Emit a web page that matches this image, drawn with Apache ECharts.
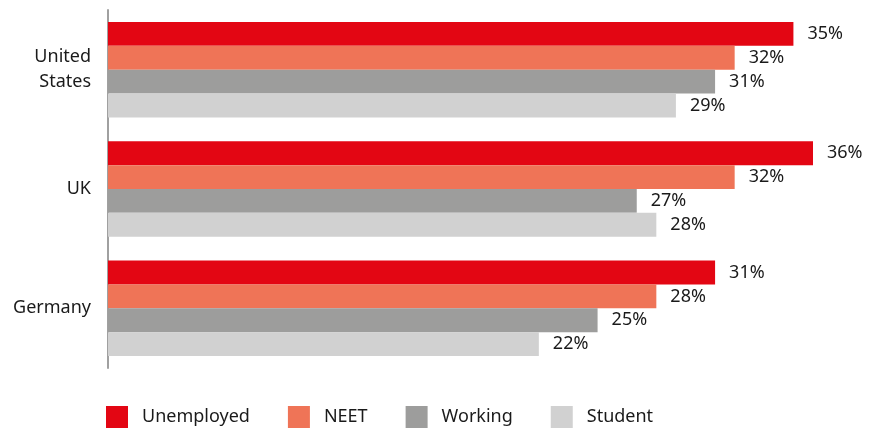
<!DOCTYPE html>
<html>
<head>
<meta charset="utf-8">
<script src="https://cdn.jsdelivr.net/npm/echarts@6/dist/echarts.min.js"></script>
<style>
  html, body { margin: 0; padding: 0; background: #fff; }
  #chart { width: 877px; height: 432px; }
</style>
</head>
<body>
<div id="chart"></div>
<script>
// Share of respondents by employment status, per country
const countries = ['United\nStates', 'UK', 'Germany'];
const unemployed = [35, 36, 31];
const neet = [32, 32, 28];
const working = [31, 27, 25];
const student = [29, 28, 22];

const seriesNames = ['Unemployed', 'NEET', 'Working', 'Student'];
const seriesValues = [unemployed, neet, working, student];
const seriesColors = ['#E30613', '#EF7457', '#9D9D9C', '#D1D1D1'];

const fontFamily = '"Noto Sans", "Open Sans", sans-serif';

const chart = echarts.init(document.getElementById('chart'), null, { renderer: 'canvas' });

chart.setOption({
  animation: false,
  textStyle: { fontFamily: fontFamily },
  grid: { left: 108, right: 64, top: 10, bottom: 64, containLabel: false },
  legend: {
    left: 106,
    bottom: 4,
    padding: 0,
    itemWidth: 22,
    itemHeight: 22,
    itemGap: 38,
    icon: 'rect',
    textStyle: { fontSize: 18, color: '#1a1a1a', fontFamily: fontFamily, padding: [0, 0, 0, 9] },
    data: seriesNames
  },
  xAxis: {
    type: 'value',
    min: 0,
    max: 36,
    show: false
  },
  yAxis: {
    type: 'category',
    inverse: true,
    data: countries,
    axisLine: { show: true, lineStyle: { color: '#a0a0a0', width: 2 } },
    axisTick: { show: false },
    axisLabel: {
      margin: 17,
      fontSize: 18,
      lineHeight: 25,
      color: '#1a1a1a',
      fontFamily: fontFamily
    }
  },
  series: seriesNames.map((name, i) => ({
    name: name,
    type: 'bar',
    data: seriesValues[i],
    barGap: '0%',
    barCategoryGap: '20%',
    itemStyle: { color: seriesColors[i] },
    label: {
      show: true,
      position: 'right',
      distance: 14,
      formatter: '{c}%',
      fontSize: 18,
      color: '#1a1a1a',
      fontFamily: fontFamily
    }
  }))
});
</script>
</body>
</html>
